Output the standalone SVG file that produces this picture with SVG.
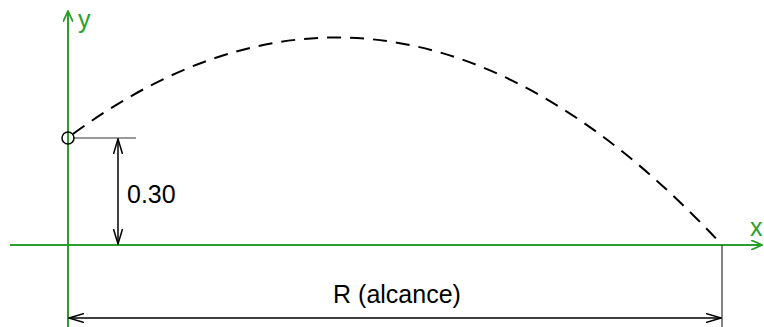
<svg xmlns="http://www.w3.org/2000/svg" width="764" height="327" viewBox="0 0 764 327">
<defs>
<style>
.axis{stroke:#2aa02a;stroke-width:2;fill:none}
.dim{stroke:#000;stroke-width:1.5;fill:none}
.thin{stroke:#333;stroke-width:1.2;fill:none}
.lbl{font-family:"Liberation Sans",Arial,sans-serif;font-size:25px;fill:#000}
.albl{font-family:"Liberation Sans",Arial,sans-serif;font-size:25px;fill:#2aa02a}
</style>
<marker id="ga" viewBox="0 0 12 10" refX="11" refY="5" markerWidth="12" markerHeight="10" markerUnits="userSpaceOnUse" orient="auto-start-reverse">
<path d="M0,0 L11,5 L0,10" fill="none" stroke="#2aa02a" stroke-width="1.8"/>
</marker>
<marker id="ka" viewBox="0 0 16 10" refX="15" refY="5" markerWidth="16" markerHeight="10" markerUnits="userSpaceOnUse" orient="auto-start-reverse">
<path d="M0,0.5 L15,5 L0,9.5" fill="none" stroke="#000" stroke-width="1.5"/>
</marker>
</defs>
<rect width="764" height="327" fill="#fff"/>
<g id="connectors">
<line id="x-axis" class="axis" x1="10" y1="245" x2="762" y2="245" marker-end="url(#ga)"/>
<line id="y-axis" class="axis" x1="68" y1="327" x2="68" y2="11" marker-end="url(#ga)"/>
<path id="trajectory" d="M73,134 Q398,-104 722,245" fill="none" stroke="#000" stroke-width="2" stroke-dasharray="14 9"/>
<line class="thin" x1="74" y1="138" x2="136" y2="138"/>
<line class="dim" x1="118" y1="139" x2="118" y2="244" marker-start="url(#ka)" marker-end="url(#ka)"/>
<line class="thin" x1="722" y1="245" x2="722" y2="327"/>
<line class="dim" x1="69" y1="318" x2="721" y2="318" marker-start="url(#ka)" marker-end="url(#ka)"/>
</g>
<g id="launch-point">
<circle cx="68" cy="138" r="6" fill="none" stroke="#000" stroke-width="1.5"/>
</g>
<g id="labels">
<text class="albl" x="78" y="28">y</text>
<text class="albl" x="750" y="236">x</text>
<text class="lbl" x="127" y="203">0.30</text>
<text class="lbl" x="397" y="303" text-anchor="middle">R (alcance)</text>
</g>
</svg>
